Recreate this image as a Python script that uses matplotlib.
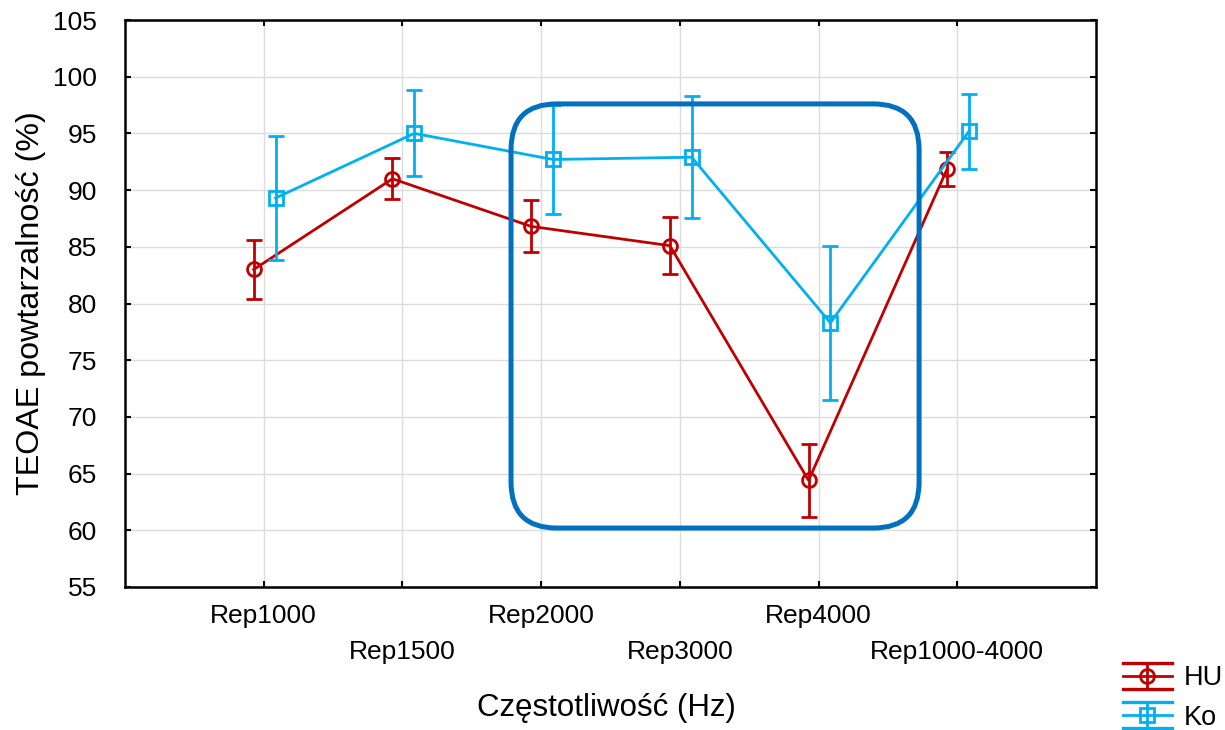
import matplotlib
matplotlib.use("Agg")
import matplotlib.pyplot as plt
import numpy as np
from matplotlib.lines import Line2D
from matplotlib.patches import FancyBboxPatch
from matplotlib.legend_handler import HandlerBase

plt.rcParams['font.family'] = ['Liberation Sans', 'DejaVu Sans']

categories = ["Rep1000", "Rep1500", "Rep2000", "Rep3000", "Rep4000", "Rep1000-4000"]
hu_mean = [83.0, 91.0, 86.8, 85.1, 64.4, 91.9]
hu_err = [2.6, 1.8, 2.3, 2.5, 3.2, 1.5]
ko_mean = [89.3, 95.0, 92.7, 92.9, 78.3, 95.2]
ko_err = [5.5, 3.8, 4.8, 5.4, 6.8, 3.3]
series_labels = ["HU", "Ko"]

RED = "#C00000"
CYAN = "#00B0F0"
BOXC = "#0070C0"

fig = plt.figure(figsize=(12.25, 7.3), dpi=100)
ax = fig.add_axes([125/1225, (730-587)/730, (1096-125)/1225, (587-20)/730])

x = np.arange(1, len(categories) + 1)
common = dict(lw=2.0, ms=10, mfc='none', mew=2.0, capsize=6, capthick=2.6,
              elinewidth=2.0)
hu = ax.errorbar(x - 0.072, hu_mean, yerr=hu_err, color=RED, marker='o',
                 mec=RED, label=series_labels[0], zorder=3, **common)
ko = ax.errorbar(x + 0.085, ko_mean, yerr=ko_err, color=CYAN, marker='s',
                 mec=CYAN, label=series_labels[1], zorder=4, **common)

ax.set_xlim(0, 7)
ax.set_ylim(55, 105)
ax.set_yticks(np.arange(55, 106, 5))
ax.set_xticks(x)
ax.set_xticklabels(categories)
ax.grid(True, color="#dcdcdc", lw=1.0, zorder=0)
ax.set_axisbelow(True)
for s in ax.spines.values():
    s.set_linewidth(1.8)
    s.set_color("black")
ax.tick_params(direction='in', length=4, width=1.5, top=True, right=True,
               labelsize=19)
ax.tick_params(axis='y', pad=20)
for i, t in enumerate(ax.xaxis.get_major_ticks()):
    t.set_pad(12 if i % 2 == 0 else 38)

ax.set_ylabel("TEOAE powtarzalność (%)", fontsize=23.2, va='center')
ax.yaxis.set_label_coords(-0.097, 0.5)
ax.set_xlabel("Częstotliwość (Hz)", fontsize=22.5, va='center')
ax.xaxis.set_label_coords(0.496, -0.2134)

# rounded highlight box
x0, x1 = (510 - 124) / 138.7, (918 - 124) / 138.7
y0, y1 = 60.2, 97.6
aspect = (971 / 7) / (567 / 50)
box = FancyBboxPatch((x0, y0), x1 - x0, y1 - y0,
                     boxstyle="round,pad=0,rounding_size=0.33",
                     mutation_aspect=aspect, fill=False, ec=BOXC, lw=3.6,
                     zorder=6, transform=ax.transData, clip_on=False)
ax.add_patch(box)


class EBHandler(HandlerBase):
    def create_artists(self, legend, orig_handle, xdescent, ydescent, width,
                       height, fontsize, trans):
        line = orig_handle[0]
        c = line.get_color()
        m = line.get_marker()
        yc = height / 2 - ydescent
        xa, xb = -xdescent, -xdescent + width
        xc = (xa + xb) / 2
        h = 9.5
        arts = []
        for dy in (-h, 0, h):
            arts.append(Line2D([xa, xb], [yc + dy] * 2, color=c,
                               lw=2.4 if dy else 2.0))
        arts.append(Line2D([xc, xc], [yc - h, yc + h], color=c, lw=2.0))
        arts.append(Line2D([xc], [yc], marker=m, ms=10, mfc='none', mec=c,
                           mew=2.0, ls='none'))
        for a in arts:
            a.set_transform(trans)
        return arts


fig.legend(handles=[hu, ko], labels=series_labels, loc='center left',
           bbox_to_anchor=(1123/1225, (730-698)/730), frameon=False,
           fontsize=19.5, handlelength=1.8, handletextpad=0.45,
           borderpad=0, borderaxespad=0, labelspacing=0.5,
           handler_map={type(hu): EBHandler()})

fig.savefig("out.png", dpi=100)
